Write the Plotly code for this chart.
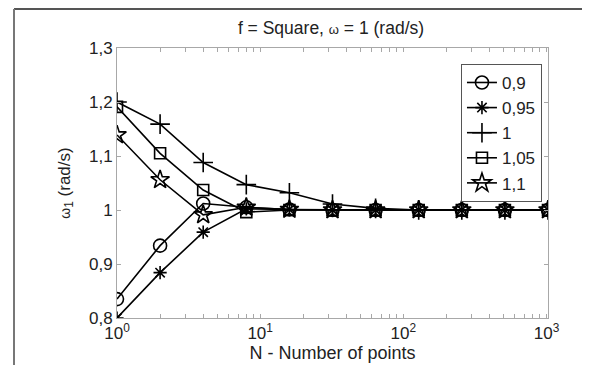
import numpy as np
import plotly.graph_objects as go

# ---- data ----
N = [1, 2, 4, 8, 16, 32, 64, 128, 256, 512, 1024]
w_09 = [0.835, 0.934, 1.012, 1.005, 1.001, 1.0, 1.0, 1.0, 1.0, 1.0, 1.0]
w_095 = [0.800, 0.884, 0.959, 1.002, 1.001, 1.0, 1.0, 1.0, 1.0, 1.0, 1.0]
w_1 = [1.200, 1.159, 1.088, 1.047, 1.032, 1.011, 1.003, 1.0, 1.0, 1.0, 1.0]
w_105 = [1.191, 1.105, 1.037, 0.996, 1.000, 1.0, 1.0, 1.0, 1.0, 1.0, 1.0]
w_11 = [1.139, 1.056, 0.991, 1.005, 1.001, 1.0, 1.0, 1.0, 1.0, 1.0, 1.0]

series_names = ["0,9", "0,95", "1", "1,05", "1,1"]
series_values = [w_09, w_095, w_1, w_105, w_11]
series_symbols = ["circle-open", "asterisk-open", "cross-thin-open", "square-open", "star-open"]
series_sizes = [13, 11, 14, 11, 14]

y_tickvals = [0.8, 0.9, 1.0, 1.1, 1.2, 1.3]
y_ticktext = ["0,8", "0,9", "1", "1,1", "1,2", "1,3"]
x_major = [1, 10, 100, 1000]
x_major_text = ["10<sup>0</sup>", "10<sup>1</sup>", "10<sup>2</sup>", "10<sup>3</sup>"]

title_text = "f = Square, <span style='font-size:13px'>ω</span> = 1 (rad/s)"
x_title = "N - Number of points"
y_title = "<span style='font-size:14px'>ω</span><sub>1</sub> (rad/s)"

# tick positions incl. minor log ticks
x_tickvals, x_ticktext = [], []
for d in [1, 10, 100]:
    for m in range(1, 10):
        v = d * m
        x_tickvals.append(v)
        x_ticktext.append(x_major_text[x_major.index(v)] if v in x_major else "")
x_tickvals.append(1000)
x_ticktext.append(x_major_text[3])

fig = go.Figure()
for name, vals, sym, sz in zip(series_names, series_values, series_symbols, series_sizes):
    fig.add_trace(go.Scatter(
        x=N, y=vals, name=name, mode="lines+markers",
        line=dict(color="black", width=1.6),
        marker=dict(symbol=sym, size=sz, color="black",
                    line=dict(color="black", width=1.6)),
    ))

# page body has an 8px margin; figure is sized/positioned to compensate
OFF = 8
W, H = 590 - 2 * OFF, 373 - 2 * OFF
L, T = 117 - OFF, 48 - OFF
R = OFF + W - 548
B = OFF + H - 318

FONT = "Liberation Sans, Arial, sans-serif"
axis_color = "#a8a8a8"
fig.update_layout(
    width=W, height=H,
    margin=dict(l=L, r=R, t=T, b=B),
    paper_bgcolor="white", plot_bgcolor="white",
    font=dict(family=FONT, size=17, color="#222"),
    title=dict(text=title_text, x=(331 - OFF) / W, xanchor="center",
               y=1 - (28 - OFF) / H, yanchor="middle",
               font=dict(family=FONT, size=17.5, color="#222")),
    legend=dict(x=0.986, y=0.941, xanchor="right", yanchor="top",
                bgcolor="white", bordercolor="#555", borderwidth=1,
                font=dict(family=FONT, size=17, color="#222"), itemwidth=30,
                tracegroupgap=0),
    showlegend=True,
)
fig.update_xaxes(
    type="log", range=[0, np.log10(1024)], automargin=False,
    tickmode="array", tickvals=x_tickvals, ticktext=x_ticktext,
    ticks="inside", ticklen=4, tickcolor=axis_color,
    showline=True, linecolor=axis_color, linewidth=1, mirror="ticks",
    showgrid=False, zeroline=False,
    tickfont=dict(family=FONT, size=17, color="#222"),
    title=dict(text=x_title, font=dict(family=FONT, size=18, color="#222"), standoff=2),
)
fig.update_yaxes(
    range=[0.8, 1.3], automargin=False,
    tickmode="array", tickvals=y_tickvals, ticktext=y_ticktext,
    ticks="inside", ticklen=4, tickcolor=axis_color,
    showline=True, linecolor=axis_color, linewidth=1, mirror="ticks",
    showgrid=False, zeroline=False,
    tickfont=dict(family=FONT, size=17, color="#222"),
    title=dict(text=y_title, font=dict(family=FONT, size=17, color="#222"), standoff=14),
)

# outer figure frame (top and left edges), in plot-area paper units
pw, ph = 431, 270
fig.add_shape(type="line", xref="paper", yref="paper",
              x0=(14 - 117) / pw, x1=(600 - 117) / pw,
              y0=(318 - 9) / ph, y1=(318 - 9) / ph,
              line=dict(color="#555", width=2))
fig.add_shape(type="line", xref="paper", yref="paper",
              x0=(14 - 117) / pw, x1=(14 - 117) / pw,
              y0=(318 - 9) / ph, y1=(318 - 380) / ph,
              line=dict(color="#777", width=2))

fig.write_html("out.html", config={"displayModeBar": False})
